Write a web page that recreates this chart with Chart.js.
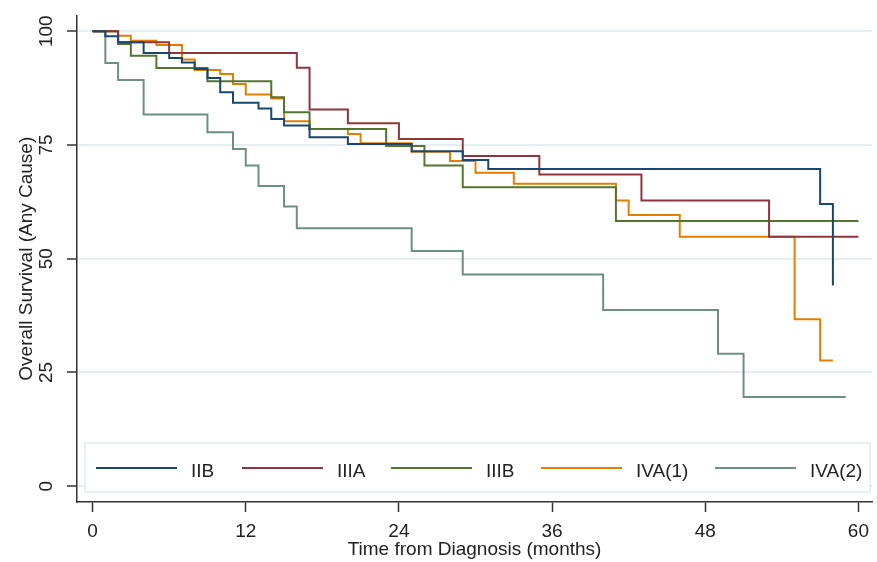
<!DOCTYPE html>
<html>
<head>
<meta charset="utf-8">
<script src="https://cdn.jsdelivr.net/npm/chart.js@4.4.1/dist/chart.umd.min.js"></script>
<style>
  html, body { margin: 0; padding: 0; background: #fff; }
  #wrap { width: 877px; height: 562px; }
</style>
</head>
<body>
<div id="wrap"><canvas id="kmChart" width="877" height="562"></canvas></div>
<script>
// --- data (months, % surviving) ---
const groups = ['IIB', 'IIIA', 'IIIB', 'IVA(1)', 'IVA(2)'];
const colors = ['#1a476f', '#90353b', '#55752f', '#e37e00', '#6e8e84'];

const iibTimes = [0, 1, 2, 4, 6, 7, 8, 9, 10, 11, 13, 14, 15, 17, 20, 25, 29, 31, 57, 58];
const iibSurv  = [100, 98.9, 97.6, 95.2, 94.1, 93.1, 91.7, 89.7, 86.6, 84.3, 83.0, 80.7, 79.3, 76.7, 75.2, 73.6, 71.7, 69.7, 62.0, 44.1];

const iiiaTimes = [0, 2, 6, 16, 17, 20, 24, 29, 35, 43, 53, 60];
const iiiaSurv  = [100, 97.6, 95.2, 92.0, 82.8, 79.8, 76.3, 72.6, 68.5, 62.8, 54.8, 54.8];

const iiibTimes = [0, 2, 3, 5, 9, 14, 15, 17, 23, 26, 29, 41, 60];
const iiibSurv  = [100, 97.2, 94.6, 91.9, 89.0, 85.5, 82.2, 78.5, 74.8, 70.5, 65.7, 58.3, 58.3];

const iva1Times = [0, 2, 3, 5, 7, 8, 10, 11, 12, 14, 15, 17, 20, 21, 25, 28, 30, 33, 41, 42, 46, 55, 57, 58];
const iva1Surv  = [100, 99.0, 97.9, 97.0, 93.8, 91.5, 90.6, 88.4, 86.1, 85.2, 80.2, 78.5, 77.4, 75.4, 73.5, 71.5, 68.9, 66.5, 62.8, 59.6, 54.8, 36.7, 27.6, 27.6];

const iva2Times = [0, 1, 2, 4, 9, 11, 12, 13, 15, 16, 25, 29, 40, 49, 51, 59];
const iva2Surv  = [100, 93.0, 89.3, 81.7, 77.8, 74.1, 70.5, 66.0, 61.5, 56.7, 51.7, 46.5, 38.7, 29.1, 19.6, 19.6];

const xTicks = [0, 12, 24, 36, 48, 60];
const yTicks = [0, 25, 50, 75, 100];

const xTitle = 'Time from Diagnosis (months)';
const yTitle = 'Overall Survival (Any Cause)';

const seriesTimes = [iibTimes, iiiaTimes, iiibTimes, iva1Times, iva2Times];
const seriesSurv = [iibSurv, iiiaSurv, iiibSurv, iva1Surv, iva2Surv];

const FONT = "'Liberation Sans', Arial, sans-serif";
const INK = '#222';

const toPoints = (times, surv) => times.map((t, i) => ({ x: t, y: surv[i] }));

// legend drawn inside the plot region, Stata style
const insideLegend = {
    id: 'insideLegend',
    afterDraw(chart) {
        const ctx = chart.ctx;
        const box = { left: 85, top: 443, right: 870, bottom: 492 };
        const lineStarts = [96, 242, 391, 541, 715];
        const lineLen = 81;
        const midY = 468;

        ctx.save();
        ctx.fillStyle = '#fff';
        ctx.fillRect(box.left, box.top, box.right - box.left, box.bottom - box.top);
        ctx.strokeStyle = '#e2ebee';
        ctx.lineWidth = 1.5;
        ctx.strokeRect(box.left, box.top, box.right - box.left, box.bottom - box.top);

        chart.data.datasets.forEach((ds, i) => {
            const x0 = lineStarts[i];
            ctx.strokeStyle = ds.borderColor;
            ctx.lineWidth = 2;
            ctx.beginPath();
            ctx.moveTo(x0, midY);
            ctx.lineTo(x0 + lineLen, midY);
            ctx.stroke();

            ctx.fillStyle = INK;
            ctx.font = `19px ${FONT}`;
            ctx.textAlign = 'left';
            ctx.textBaseline = 'alphabetic';
            ctx.fillText(ds.label, x0 + lineLen + 14, 476.5);
        });
        ctx.restore();
    }
};

const ctx = document.getElementById('kmChart').getContext('2d');
new Chart(ctx, {
    type: 'line',
    data: {
        datasets: groups.map((g, i) => ({
            label: g,
            data: toPoints(seriesTimes[i], seriesSurv[i]),
            borderColor: colors[i],
            backgroundColor: colors[i],
            borderWidth: 2,
            stepped: 'before',
            pointRadius: 0,
            fill: false,
            borderJoinStyle: 'miter',
            borderCapStyle: 'butt'
        }))
    },
    options: {
        responsive: false,
        animation: false,
        events: [],
        layout: { padding: { top: 10, right: 0, bottom: 0, left: 0 } },
        plugins: {
            legend: { display: false },
            tooltip: { enabled: false }
        },
        scales: {
            x: {
                type: 'linear',
                min: -1.22,
                max: 61.07,
                afterBuildTicks: (scale) => { scale.ticks = xTicks.map(v => ({ value: v })); },
                afterFit: (scale) => { scale.height = 60; },
                ticks: {
                    color: INK,
                    font: { family: FONT, size: 19 },
                    padding: 8,
                    maxRotation: 0,
                    autoSkip: false
                },
                grid: {
                    drawOnChartArea: false,
                    tickColor: '#333',
                    tickLength: 10,
                    tickWidth: 1.5
                },
                border: { color: '#333', width: 1.5 },
                title: {
                    display: true,
                    text: xTitle,
                    color: INK,
                    font: { family: FONT, size: 19 },
                    padding: { top: 0, bottom: 1 }
                }
            },
            y: {
                type: 'linear',
                min: -3.48,
                max: 103.48,
                afterBuildTicks: (scale) => { scale.ticks = yTicks.map(v => ({ value: v })); },
                afterFit: (scale) => { scale.width = 77; },
                ticks: {
                    color: INK,
                    font: { family: FONT, size: 19 },
                    padding: 4,
                    minRotation: 90,
                    maxRotation: 90,
                    crossAlign: 'center',
                    autoSkip: false
                },
                grid: {
                    color: '#e5eef1',
                    lineWidth: 2,
                    tickColor: '#333',
                    tickLength: 10,
                    tickWidth: 1.5
                },
                border: { color: '#333', width: 1.5 },
                title: {
                    display: true,
                    text: yTitle,
                    color: INK,
                    font: { family: FONT, size: 19 },
                    padding: { top: 15, bottom: 0 }
                }
            }
        }
    },
    plugins: [insideLegend]
});
</script>
</body>
</html>
